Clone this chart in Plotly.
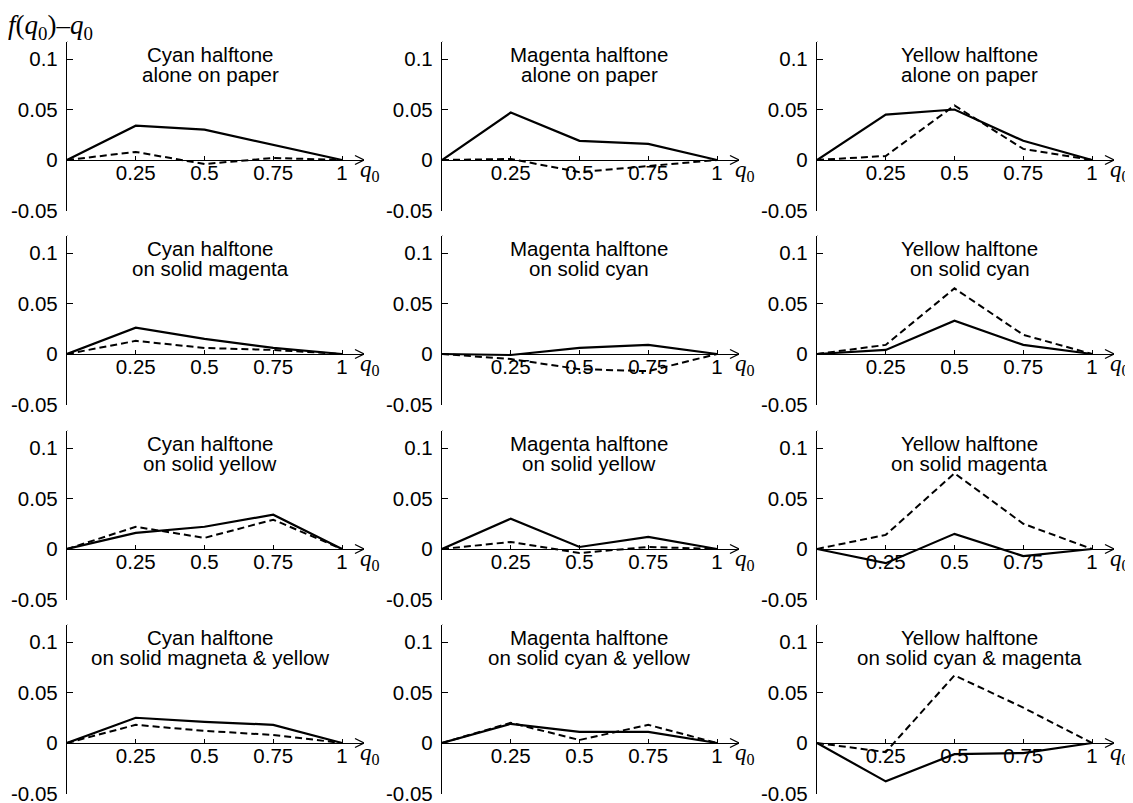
import plotly.graph_objects as go

# ---------------- data ----------------
X = [0, 0.25, 0.5, 0.75, 1]

TITLES_L1 = ["Cyan halftone", "Magenta halftone", "Yellow halftone",
             "Cyan halftone", "Magenta halftone", "Yellow halftone",
             "Cyan halftone", "Magenta halftone", "Yellow halftone",
             "Cyan halftone", "Magenta halftone", "Yellow halftone"]
TITLES_L2 = ["alone on paper", "alone on paper", "alone on paper",
             "on solid magenta", "on solid cyan", "on solid cyan",
             "on solid yellow", "on solid yellow", "on solid magenta",
             "on solid magneta & yellow", "on solid cyan & yellow", "on solid cyan & magenta"]

SOLID = [
    [0, 0.034, 0.030, 0.015, 0],
    [0, 0.047, 0.019, 0.016, 0],
    [0, 0.045, 0.050, 0.019, 0],
    [0, 0.026, 0.015, 0.006, 0],
    [0, -0.001, 0.006, 0.009, 0],
    [0, 0.004, 0.033, 0.009, 0],
    [0, 0.016, 0.022, 0.034, 0],
    [0, 0.030, 0.002, 0.012, 0],
    [0, -0.014, 0.015, -0.007, 0],
    [0, 0.025, 0.021, 0.018, 0],
    [0, 0.019, 0.011, 0.011, 0],
    [0, -0.038, -0.011, -0.010, 0],
]
DASHED = [
    [0, 0.008, -0.004, 0.002, 0],
    [0, 0.001, -0.012, -0.006, 0],
    [0, 0.004, 0.054, 0.011, 0],
    [0, 0.013, 0.006, 0.004, 0],
    [0, -0.005, -0.015, -0.017, 0],
    [0, 0.009, 0.065, 0.019, 0],
    [0, 0.022, 0.011, 0.029, 0],
    [0, 0.007, -0.004, 0.002, 0],
    [0, 0.014, 0.075, 0.025, 0],
    [0, 0.018, 0.012, 0.008, 0],
    [0, 0.020, 0.003, 0.018, 0],
    [0, -0.009, 0.067, 0.035, 0],
]

YTICKS = [-0.05, 0, 0.05, 0.1]
YTICKTEXT = ["-0.05", "0", "0.05", "0.1"]
XTICKS = [0.25, 0.5, 0.75, 1]
XTICKTEXT = ["0.25", "0.5", "0.75", "1"]

# ---------------- layout constants ----------------
W, H = 1133, 803
OFF = 8                          # page body margin of the html page
COL_X0 = [67, 442, 817]          # screen pixel position of x=0
ROW_Z = [160, 354, 549, 743]     # screen pixel position of y=0
XPX = 275                        # pixels per x unit
YPX = 1010                       # pixels per y unit
XMAX = 1.08
YMIN, YMAX = -0.05, 0.117
TITLE_X = [0.52, 0.535, 0.555]
TITLE_Y1, TITLE_Y2 = 0.104, 0.085

SANS = "Liberation Sans, Arial, sans-serif"
SERIF = "Liberation Serif, Times New Roman, serif"
FS = 20.5


def px_x(p):
    return (p - OFF) / W


def px_y(p):
    return 1 - (p - OFF) / H


fig = go.Figure()
layout = dict(width=W, height=H, margin=dict(l=0, r=0, t=0, b=0, autoexpand=False),
              paper_bgcolor="white", plot_bgcolor="white", showlegend=False)
shapes = []
annotations = []

for i in range(12):
    r, c = divmod(i, 3)
    sfx = "" if i == 0 else str(i + 1)
    xr, yr = "x" + sfx, "y" + sfx
    x0 = COL_X0[c]
    x1 = x0 + XMAX * XPX
    z = ROW_Z[r]
    bot = z - YMIN * YPX
    top = z - YMAX * YPX

    layout["xaxis" + sfx] = dict(
        domain=[px_x(x0), px_x(x1)], range=[0, XMAX], anchor="free", automargin=False,
        position=px_y(z), showline=True, linecolor="black", linewidth=1.3,
        tickvals=XTICKS, ticktext=XTICKTEXT, ticks="inside", ticklen=4,
        tickcolor="black", tickwidth=1, showgrid=False, zeroline=False,
        ticklabelstandoff=-6,
        tickfont=dict(family=SANS, size=FS, color="black"), fixedrange=True)
    layout["yaxis" + sfx] = dict(
        domain=[px_y(bot), px_y(top)], range=[YMIN, YMAX], anchor=xr,
        automargin=False,
        showline=True, linecolor="black", linewidth=1.3,
        tickvals=YTICKS, ticktext=YTICKTEXT, ticks="inside", ticklen=6,
        tickcolor="black", tickwidth=1, showgrid=False, zeroline=False,
        ticklabelstandoff=4,
        tickfont=dict(family=SANS, size=FS, color="black"), fixedrange=True)

    fig.add_trace(go.Scatter(x=X, y=SOLID[i], mode="lines", xaxis=xr, yaxis=yr,
                             line=dict(color="black", width=2.2), hoverinfo="skip"))
    fig.add_trace(go.Scatter(x=X, y=DASHED[i], mode="lines", xaxis=xr, yaxis=yr,
                             line=dict(color="black", width=2, dash="7px,4px"),
                             hoverinfo="skip"))

    # arrowheads
    for (dx, dy) in [(-9, 4.5), (-9, -4.5)]:
        shapes.append(dict(type="line", xref=xr, yref=yr, xsizemode="pixel",
                           ysizemode="pixel", xanchor=XMAX, yanchor=0,
                           x0=dx, y0=dy, x1=0, y1=0,
                           line=dict(color="black", width=1.3)))
    for (dx, dy) in [(-4.5, 9), (4.5, 9)]:
        shapes.append(dict(type="line", xref=xr, yref=yr, xsizemode="pixel",
                           ysizemode="pixel", xanchor=0, yanchor=YMAX,
                           x0=dx, y0=dy, x1=0, y1=0,
                           line=dict(color="black", width=1.3)))

    # titles
    annotations.append(dict(xref=xr, yref=yr, x=TITLE_X[c], y=TITLE_Y1,
                            text=TITLES_L1[i], showarrow=False, xanchor="center",
                            yanchor="middle",
                            font=dict(family=SANS, size=FS, color="black")))
    annotations.append(dict(xref=xr, yref=yr, x=TITLE_X[c], y=TITLE_Y2,
                            text=TITLES_L2[i], showarrow=False, xanchor="center",
                            yanchor="middle",
                            font=dict(family=SANS, size=FS, color="black")))
    # q0 label
    annotations.append(dict(xref=xr, yref=yr, x=XMAX, y=0, text="<i>q</i><sub>0</sub>",
                            showarrow=False, xanchor="left", yanchor="top",
                            xshift=-6, yshift=5,
                            font=dict(family=SERIF, size=23, color="black")))

annotations.append(dict(xref="paper", yref="paper", x=px_x(6), y=px_y(27),
                        text="<i>f</i>(<i>q</i><sub>0</sub>)\u2013<i>q</i><sub>0</sub>",
                        showarrow=False, xanchor="left", yanchor="middle",
                        font=dict(family=SERIF, size=27, color="black")))

layout["shapes"] = shapes
layout["annotations"] = annotations
fig.update_layout(**layout)
fig.write_html("out.html")
